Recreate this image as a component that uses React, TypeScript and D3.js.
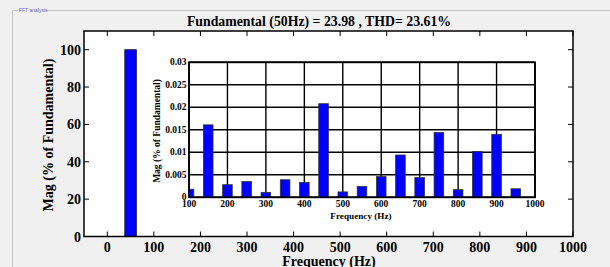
import * as d3 from 'd3';

// harmonic spectrum
const FREQS = [50, 100, 150, 200, 250, 300, 350, 400, 450, 500, 550, 600, 650, 700, 750, 800, 850, 900, 950];
const MAGS = [100, 0.0018, 0.0161, 0.0028, 0.0035, 0.0011, 0.0039, 0.0033, 0.0208, 0.0012, 0.0024, 0.0046, 0.0094, 0.0044, 0.0144, 0.0017, 0.0102, 0.014, 0.0019];
const MAIN_XTICKS = [0, 100, 200, 300, 400, 500, 600, 700, 800, 900, 1000];
const MAIN_YTICKS = [0, 20, 40, 60, 80, 100];
const INSET_XTICKS = [100, 200, 300, 400, 500, 600, 700, 800, 900, 1000];
const INSET_YTICKS = [0, 0.005, 0.01, 0.015, 0.02, 0.025, 0.03];
const TITLE = 'Fundamental (50Hz) = 23.98 , THD= 23.61%';

const W = 610, H = 267;
const FONT = '"Liberation Serif", "Times New Roman", serif';
const BAR_W = 25; // Hz

export default function App() {
  const x = d3.scaleLinear().domain([-50, 1000]).range([84, 573]);
  const y = d3.scaleLinear().domain([0, 110]).range([236.5, 31]);
  const ix = d3.scaleLinear().domain([100, 1000]).range([189, 535]);
  const iy = d3.scaleLinear().domain([0, 0.03]).range([197.3, 62.3]);
  const fmtI = (v: number) => (v === 0 ? '0' : String(+v.toFixed(3)));

  return (
    <div style={{ position: 'fixed', left: 0, top: 0 }}>
      <svg width={W} height={H} style={{ display: 'block', fontFamily: FONT }}>
        <rect width={W} height={H} fill="#f0f0f0" />
        {/* panel frame */}
        <path d={`M18,10.5 H12.5 V${H} M46,10.5 H${W}`} fill="none" stroke="#c4c4c4" />
        <text x={19} y={12} fontSize={5} fill="#6060d0" fontFamily="Arial, sans-serif">FFT analysis</text>

        <text x={319} y={26} textAnchor="middle" fontSize={13.8} fontWeight="bold">{TITLE}</text>

        {/* main axes */}
        <rect x={x(-50)} y={y(110)} width={x(1000) - x(-50)} height={y(0) - y(110)} fill="#fff" />
        <clipPath id="mainClip">
          <rect x={x(-50)} y={y(110)} width={x(1000) - x(-50)} height={y(0) - y(110)} />
        </clipPath>
        <g clipPath="url(#mainClip)">
          {FREQS.map((f, i) => (
            <rect key={f} x={x(f - BAR_W / 2)} y={y(MAGS[i])} width={x(f + BAR_W / 2) - x(f - BAR_W / 2)}
              height={y(0) - y(MAGS[i])} fill="#0000ff" stroke="#222" strokeWidth={0.8} />
          ))}
        </g>
        {MAIN_XTICKS.map(t => (
          <g key={t}>
            <line x1={x(t)} x2={x(t)} y1={y(0)} y2={y(0) - 5} stroke="#000" />
            <line x1={x(t)} x2={x(t)} y1={y(110)} y2={y(110) + 5} stroke="#000" />
            <text x={x(t)} y={252} textAnchor="middle" fontSize={14} fontWeight="bold">{t}</text>
          </g>
        ))}
        {MAIN_YTICKS.map(t => (
          <g key={t}>
            <line x1={x(-50)} x2={x(-50) + 5} y1={y(t)} y2={y(t)} stroke="#000" />
            <line x1={x(1000)} x2={x(1000) - 5} y1={y(t)} y2={y(t)} stroke="#000" />
            <text x={81} y={y(t) + 5} textAnchor="end" fontSize={14} fontWeight="bold">{t}</text>
          </g>
        ))}
        <rect x={x(-50)} y={y(110)} width={x(1000) - x(-50)} height={y(0) - y(110)} fill="none" stroke="#000" strokeWidth={1.5} />
        <text x={329} y={266} textAnchor="middle" fontSize={14} fontWeight="bold">Frequency (Hz)</text>
        <text transform="translate(53,135) rotate(-90)" textAnchor="middle" fontSize={14} fontWeight="bold">Mag (% of Fundamental)</text>

        {/* inset zoom on the harmonics */}
        <rect x={ix(100)} y={iy(0.03)} width={ix(1000) - ix(100)} height={iy(0) - iy(0.03)} fill="#fff" />
        {INSET_XTICKS.map(t => (
          <line key={'gx' + t} x1={ix(t)} x2={ix(t)} y1={iy(0)} y2={iy(0.03)} stroke="#000" strokeWidth={1.4} />
        ))}
        {INSET_YTICKS.map(t => (
          <line key={'gy' + t} x1={ix(100)} x2={ix(1000)} y1={iy(t)} y2={iy(t)} stroke="#000" strokeWidth={1.4} />
        ))}
        <clipPath id="insetClip">
          <rect x={ix(100)} y={iy(0.03)} width={ix(1000) - ix(100)} height={iy(0) - iy(0.03)} />
        </clipPath>
        <g clipPath="url(#insetClip)">
          {FREQS.map((f, i) => (
            <rect key={f} x={ix(f - BAR_W / 2)} y={iy(MAGS[i])} width={ix(f + BAR_W / 2) - ix(f - BAR_W / 2)}
              height={iy(0) - iy(MAGS[i])} fill="#0000ff" stroke="#333" strokeWidth={0.8} />
          ))}
        </g>
        <rect x={ix(100)} y={iy(0.03)} width={ix(1000) - ix(100)} height={iy(0) - iy(0.03)} fill="none" stroke="#000" strokeWidth={1.8} />
        {INSET_XTICKS.map(t => (
          <text key={'tx' + t} x={ix(t)} y={207} textAnchor="middle" fontSize={9.5} fontWeight="bold">{t}</text>
        ))}
        {INSET_YTICKS.map(t => (
          <text key={'ty' + t} x={186.5} y={iy(t) + 3} textAnchor="end" fontSize={9.5} fontWeight="bold">{fmtI(t)}</text>
        ))}
        <text x={361} y={219} textAnchor="middle" fontSize={9.2} fontWeight="bold">Frequency (Hz)</text>
        <text transform="translate(159.5,131) rotate(-90)" textAnchor="middle" fontSize={9.5} fontWeight="bold">Mag (% of Fundamental)</text>
      </svg>
    </div>
  );
}
